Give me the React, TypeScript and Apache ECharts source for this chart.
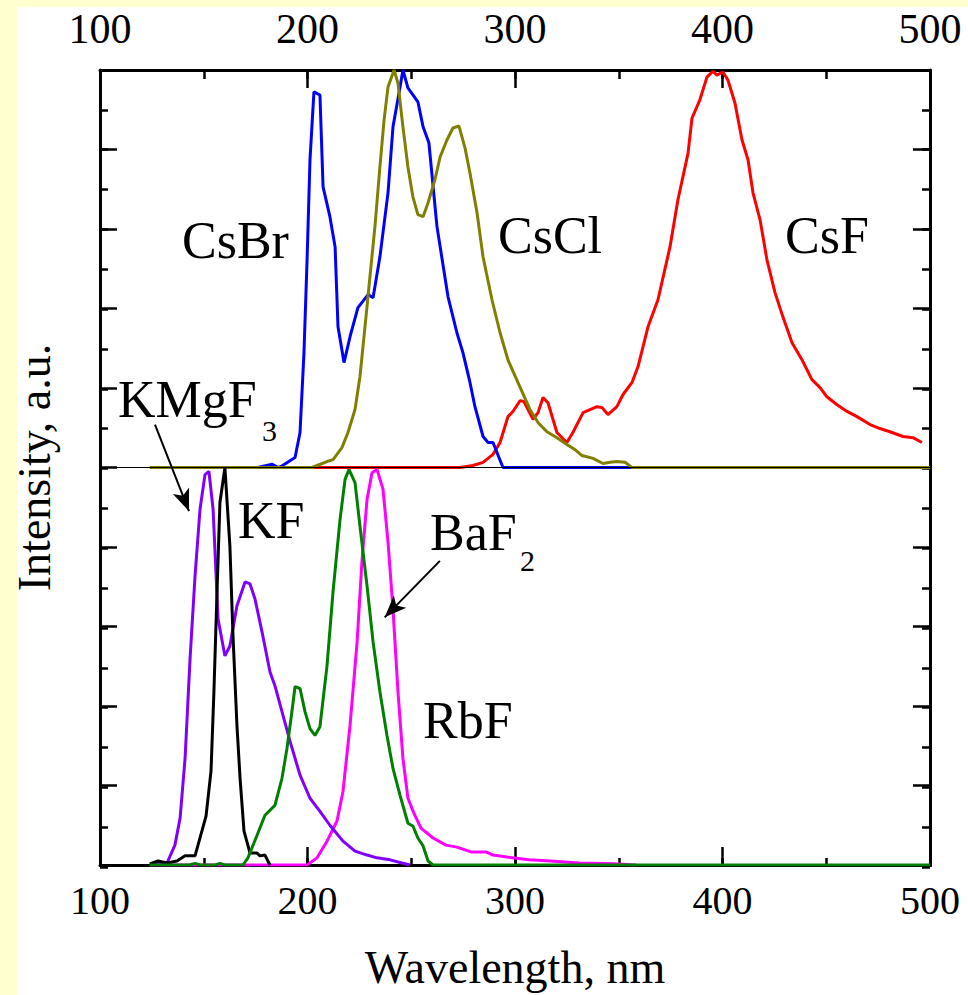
import React, { useEffect, useRef } from "react";
import * as echarts from "echarts";

// ---- axes ----
const xTicks = [100, 200, 300, 400, 500];
const xMinorStep = 50;
const yTicks = [-10, -8, -6, -4, -2, 0, 2, 4, 6, 8, 10];
const yMinorStep = 1;

// ---- upper panel (baseline 0, peak 10) ----
const csbrWl = [176, 183, 186, 188, 194, 196.4, 198.3, 199.8, 201.2, 203.1, 206.0, 207.5, 210.8, 213.3, 214.7, 217.6, 220.5, 224.3, 229.2, 231.6, 234.9, 238.8, 241.2, 244.1, 246.0, 248.4, 253.2, 255.7, 258.5, 262.4, 267.7, 272.0, 274.9, 278.3, 280.7, 284.6, 287.0, 289.4, 294.2, 357];
const csbrI = [0, 0.008, 0, 0.005, 0.025, 0.088, 0.289, 0.523, 0.774, 0.945, 0.937, 0.706, 0.631, 0.555, 0.354, 0.264, 0.329, 0.402, 0.435, 0.427, 0.53, 0.691, 0.857, 0.942, 1.0, 0.955, 0.92, 0.857, 0.817, 0.606, 0.43, 0.339, 0.289, 0.214, 0.153, 0.078, 0.063, 0.063, 0, 0];

const csclWl = [124, 202.2, 204.6, 209.4, 212.3, 216.6, 219.5, 222.9, 225.3, 227.7, 230.1, 232.5, 234.9, 236.9, 238.8, 241.7, 243.6, 246.0, 248.4, 250.8, 253.2, 255.7, 258.1, 261.4, 263.9, 267.2, 270.1, 273.0, 275.9, 278.3, 281.7, 284.6, 288.9, 292.8, 296.6, 301.4, 307.2, 311.1, 315.4, 320.2, 325.0, 328.9, 332.3, 337.6, 342.4, 345.8, 349.1, 353.0, 356.4, 500];
const csclI = [0, 0, 0.005, 0.015, 0.02, 0.05, 0.088, 0.146, 0.229, 0.354, 0.48, 0.606, 0.756, 0.874, 0.957, 1.0, 0.967, 0.857, 0.756, 0.681, 0.636, 0.631, 0.666, 0.724, 0.781, 0.824, 0.854, 0.859, 0.804, 0.741, 0.641, 0.53, 0.422, 0.339, 0.271, 0.214, 0.146, 0.113, 0.09, 0.075, 0.058, 0.045, 0.03, 0.023, 0.01, 0.013, 0.015, 0.013, 0, 0];

const csfWl = [201, 273.5, 279.7, 284.6, 289.4, 292.8, 296.6, 299.0, 302.4, 304.3, 308.7, 311.1, 313.5, 315.9, 320.2, 325.0, 327.9, 332.8, 339.5, 341.9, 344.8, 349.1, 352.0, 356.4, 359.3, 364.1, 368.9, 374.7, 378.5, 383.4, 385.3, 389.1, 392.5, 395.4, 397.3, 400.2, 402.6, 406.0, 409.4, 412.3, 414.7, 418.1, 421.4, 425.3, 429.1, 433.5, 438.3, 443.1, 447.0, 450.3, 455.2, 460.0, 464.8, 471.1, 475.9, 480.7, 487.0, 491.8, 496.1];
const csfI = [0, 0, 0.005, 0.013, 0.033, 0.063, 0.128, 0.141, 0.168, 0.166, 0.121, 0.138, 0.176, 0.163, 0.088, 0.063, 0.088, 0.138, 0.153, 0.151, 0.133, 0.153, 0.183, 0.214, 0.254, 0.354, 0.422, 0.555, 0.673, 0.791, 0.879, 0.925, 0.982, 0.997, 0.987, 0.995, 0.975, 0.917, 0.824, 0.774, 0.691, 0.623, 0.523, 0.44, 0.379, 0.314, 0.271, 0.221, 0.201, 0.178, 0.158, 0.141, 0.128, 0.108, 0.098, 0.09, 0.078, 0.075, 0.063];

// ---- lower panel (baseline -10, peak 0) ----
const kmgf3Wl = [124, 132.3, 136.1, 138.6, 141.0, 143.4, 145.8, 148.2, 150.6, 152.5, 154.5, 156.9, 160.2, 162.6, 166.0, 169.9, 172.3, 174.7, 178.1, 181.9, 184.3, 187.7, 191.6, 196.4, 201.2, 206.0, 210.8, 217.1, 222.9, 228.7, 233.5, 239.8, 245.5, 249.4];
const kmgf3I = [0, 0.005, 0.05, 0.118, 0.268, 0.519, 0.727, 0.895, 0.982, 0.99, 0.895, 0.619, 0.526, 0.551, 0.652, 0.712, 0.707, 0.669, 0.586, 0.486, 0.451, 0.386, 0.311, 0.226, 0.168, 0.135, 0.1, 0.06, 0.035, 0.025, 0.018, 0.013, 0.005, 0];

const kfWl = [124, 128.0, 132.3, 137.1, 141.0, 145.8, 148.2, 151.1, 153.5, 154.9, 156.4, 157.8, 160.2, 162.6, 164.1, 166.0, 167.5, 169.4, 172.3, 175.7, 177.1, 179.5, 181.9];
const kfI = [0.003, 0.01, 0.005, 0.01, 0.023, 0.023, 0.068, 0.123, 0.236, 0.436, 0.687, 0.912, 1.0, 0.802, 0.576, 0.351, 0.218, 0.085, 0.03, 0.03, 0.023, 0.025, 0];

const baf2Wl = [124, 143, 145.8, 148.2, 155.5, 157.8, 160.2, 168.9, 171.3, 175.7, 179.5, 184.3, 187.7, 190.1, 192.5, 194.0, 196.4, 198.8, 201.2, 203.6, 206.0, 209.4, 212.3, 215.7, 218.1, 220.0, 222.9, 225.3, 228.7, 231.6, 234.9, 238.3, 241.2, 244.6, 248.4, 250.8, 253.2, 255.7, 258.1, 260.5, 500];
const baf2I = [0, 0, 0.004, 0, 0, 0.004, 0, 0, 0.018, 0.075, 0.125, 0.15, 0.218, 0.293, 0.386, 0.449, 0.444, 0.386, 0.343, 0.326, 0.348, 0.501, 0.687, 0.87, 0.97, 0.995, 0.962, 0.852, 0.702, 0.561, 0.436, 0.326, 0.243, 0.175, 0.105, 0.098, 0.068, 0.048, 0.01, 0, 0];

const rbfWl = [124, 199.8, 204.6, 209.4, 214.2, 217.1, 220.5, 223.9, 226.3, 228.7, 231.1, 233.5, 236.4, 238.8, 241.2, 243.6, 246.0, 248.4, 251.3, 254.7, 260.5, 266.7, 272.0, 278.8, 286.0, 289.4, 296.1, 306.7, 316.9, 330.8, 347.7, 358.3];
const rbfI = [0, 0, 0.018, 0.06, 0.11, 0.185, 0.351, 0.561, 0.769, 0.92, 0.987, 0.995, 0.945, 0.812, 0.644, 0.436, 0.268, 0.168, 0.13, 0.093, 0.068, 0.05, 0.045, 0.033, 0.033, 0.025, 0.02, 0.013, 0.01, 0.005, 0.003, 0];

const FONT = '"Liberation Serif", "Times New Roman", serif';
const PANEL = 10; // height of one panel in y units

const toPairs = (wl: number[], I: number[], offset: number) =>
  wl.map((w, i) => [w, offset + PANEL * I[i]]);

const lineSeries = (name: string, color: string, data: number[][], extra: any = {}) => ({
  name,
  type: "line",
  data,
  symbol: "none",
  smooth: false,
  silent: true,
  lineStyle: { color, width: 3 },
  itemStyle: { color },
  ...extra,
});

const axisLineStyle = { color: "#000", width: 3 };
const tickStyle = { color: "#000", width: 2.5 };

const xRange = { type: "value", min: xTicks[0], max: xTicks[xTicks.length - 1] };
const yRange = { type: "value", min: yTicks[0], max: yTicks[yTicks.length - 1] };

// major axes (grid 0)
const xMajor = {
  ...xRange,
  gridIndex: 0,
  interval: xTicks[1] - xTicks[0],
  axisLine: { show: true, onZero: false, lineStyle: axisLineStyle },
  axisTick: { show: true, inside: true, length: 18, lineStyle: tickStyle },
  splitLine: { show: false },
};
const yMajor = {
  ...yRange,
  gridIndex: 0,
  interval: yTicks[1] - yTicks[0],
  axisLine: { show: true, onZero: false, lineStyle: axisLineStyle },
  axisTick: { show: true, inside: true, length: 17, lineStyle: tickStyle },
  axisLabel: { show: false },
  splitLine: { show: false },
};
// minor-tick axes (grid 1, same rectangle)
const xMinor = {
  ...xRange,
  gridIndex: 1,
  interval: xMinorStep,
  axisLine: { show: false, onZero: false },
  axisTick: { show: true, inside: true, length: 9, lineStyle: tickStyle },
  axisLabel: { show: false },
  splitLine: { show: false },
};
const yMinor = {
  ...yRange,
  gridIndex: 1,
  interval: yMinorStep,
  axisLine: { show: false, onZero: false },
  axisTick: { show: true, inside: true, length: 8, lineStyle: tickStyle },
  axisLabel: { show: false },
  splitLine: { show: false },
};

const label = (text: string, x: number, y: number, size: number) => ({
  type: "text",
  x,
  y,
  silent: true,
  z: 10,
  style: {
    text,
    fill: "#000",
    font: `${size}px ${FONT}`,
    align: "left",
    verticalAlign: "middle",
    textAlign: "left",
    textVerticalAlign: "middle",
  },
});

export default function App() {
  const ref = useRef<HTMLDivElement>(null);

  useEffect(() => {
    if (!ref.current) return;
    const chart = echarts.init(ref.current, null, { renderer: "svg" });
    const gridRect = { left: 100, right: 38, top: 70, bottom: 128, containLabel: false };
    const option: any = {
      animation: false,
      backgroundColor: "transparent",
      grid: [gridRect, gridRect],
      xAxis: [
        {
          ...xMajor,
          position: "bottom",
          name: "Wavelength, nm",
          nameLocation: "middle",
          nameGap: 79,
          nameTextStyle: { color: "#000", fontFamily: FONT, fontSize: 46 },
          axisLabel: { show: true, color: "#000", fontFamily: FONT, fontSize: 40, margin: 15, showMinLabel: true, showMaxLabel: true },
        },
        {
          ...xMajor,
          position: "top",
          axisLabel: { show: true, color: "#000", fontFamily: FONT, fontSize: 42, margin: 20, showMinLabel: true, showMaxLabel: true },
        },
        { ...xMinor, position: "bottom" },
        { ...xMinor, position: "top" },
      ],
      yAxis: [
        {
          ...yMajor,
          position: "left",
          name: "Intensity, a.u.",
          nameLocation: "middle",
          nameGap: 43,
          nameTextStyle: { color: "#000", fontFamily: FONT, fontSize: 46 },
        },
        { ...yMajor, position: "right" },
        { ...yMinor, position: "left" },
        { ...yMinor, position: "right" },
      ],
      series: [
        lineSeries("CsF", "#FF0000", toPairs(csfWl, csfI, 0), {
          markLine: {
            silent: true,
            symbol: "none",
            label: { show: false },
            lineStyle: { color: "#000", width: 1, type: "solid" },
            data: [{ yAxis: 0 }],
          },
        }),
        lineSeries("CsBr", "#0000FF", toPairs(csbrWl, csbrI, 0)),
        lineSeries("CsCl", "#808000", toPairs(csclWl, csclI, 0)),
        lineSeries("RbF", "#FF00FF", toPairs(rbfWl, rbfI, -PANEL)),
        lineSeries("KMgF3", "#8000FF", toPairs(kmgf3Wl, kmgf3I, -PANEL)),
        lineSeries("KF", "#000000", toPairs(kfWl, kfI, -PANEL), {
          markLine: {
            silent: true,
            symbol: ["none", "arrow"],
            symbolSize: [13, 22],
            label: { show: false },
            lineStyle: { color: "#000", width: 2, type: "solid" },
            itemStyle: { color: "#000" },
            data: [
              [{ coord: [126.5, 1.08] }, { coord: [142.9, -1.1] }],
              [{ coord: [263.8, -2.35] }, { coord: [237.2, -3.77] }],
            ],
          },
        }),
        lineSeries("BaF2", "#008000", toPairs(baf2Wl, baf2I, -PANEL)),
      ],
      graphic: [
        label("CsBr", 182, 240, 52),
        label("CsCl", 498, 235, 52),
        label("CsF", 785, 235, 52),
        label("KMgF", 118, 399, 52),
        label("3", 262, 430, 30),
        label("KF", 238, 520, 52),
        label("BaF", 430, 532, 52),
        label("2", 520, 560, 30),
        label("RbF", 423, 720, 52),
      ],
    };
    chart.setOption(option);
    return () => chart.dispose();
  }, []);

  return (
    <div style={{ position: "fixed", left: 0, top: 0, width: 968, height: 995, background: "#FFFFD0", overflow: "hidden" }}>
      <div style={{ position: "absolute", left: 17, top: 7, width: 951, height: 988, background: "#FFFFFF" }} />
      <div ref={ref} style={{ position: "absolute", left: 0, top: 0, width: 968, height: 995 }} />
    </div>
  );
}
